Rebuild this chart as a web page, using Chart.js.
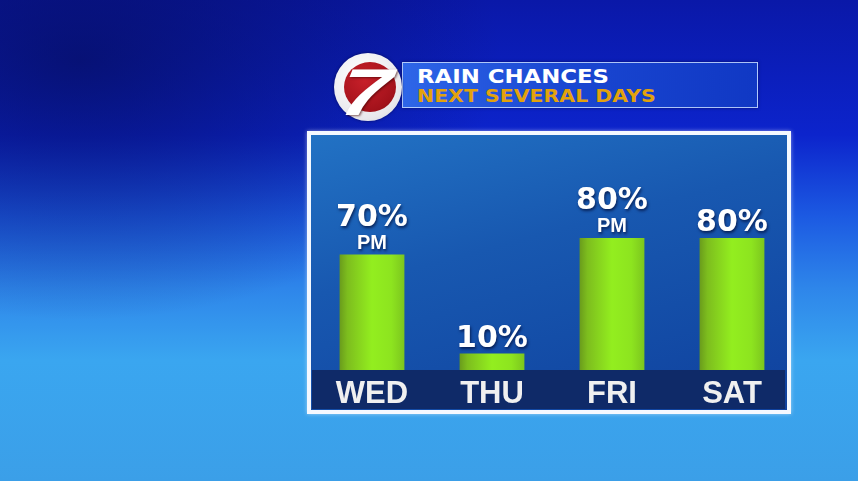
<!DOCTYPE html>
<html>
<head>
<meta charset="utf-8">
<script src="https://cdn.jsdelivr.net/npm/chart.js@4/dist/chart.umd.min.js"></script>
<style>
  html, body { margin: 0; padding: 0; }
  body {
    width: 858px; height: 481px; overflow: hidden; position: relative;
    background:
      radial-gradient(ellipse 420px 260px at 80px 60px, rgba(5,12,90,0.7), rgba(5,12,90,0) 100%),
      linear-gradient(180deg, #0a18a8 0%, #0c24cc 28%, #1c5ae2 45%, #2e86ea 60%, #3aa6f0 75%, #3b9fe8 100%);
    font-family: "Liberation Sans", Arial, sans-serif;
  }
  #panel {
    position: absolute; left: 307px; top: 131px; width: 476px; height: 275px;
    border: 4px solid #f4f8ff;
    box-shadow: 0 0 4px rgba(255,255,255,0.5);
    background: linear-gradient(165deg, #2272c4 0%, #1858b0 40%, #0f419e 100%);
  }
  #band {
    position: absolute; left: 312px; top: 370px; width: 473px; height: 39px;
    background: #0f2a68;
  }
  #banner {
    position: absolute; left: 402px; top: 62px; width: 354px; height: 44px;
    border: 1px solid rgba(200,220,255,0.85);
    background: linear-gradient(90deg, #2e66e8 0%, #1a47d2 45%, #1038c4 100%);
    box-shadow: 0 0 3px rgba(0,0,40,0.5);
  }
  .hl { position: absolute; left: 417px; font-family: "DejaVu Sans", sans-serif; font-weight: bold;
        transform-origin: 0 0; white-space: nowrap; line-height: 1; }
  #l1 { top: 67px; font-size: 19px; color: #ffffff; transform: scaleX(1.2); }
  #l2 { top: 88px; font-size: 17.5px; color: #e3a20c; transform: scaleX(1.17); }
  #ring {
    position: absolute; left: 334px; top: 53px; width: 68px; height: 68px; border-radius: 50%;
    background: radial-gradient(circle at 40% 35%, #ffffff 0%, #e8e8ec 70%, #c9cbd2 100%);
    box-shadow: 0 0 3px rgba(0,0,40,0.6);
  }
  #disc {
    position: absolute; left: 344px; top: 62px; width: 52px; height: 50px; border-radius: 50%;
    background: radial-gradient(circle at 40% 35%, #c8202a 0%, #a3121b 70%, #7e0c12 100%);
  }
  #seven {
    position: absolute; left: 346px; top: 59px; font-size: 66px; font-weight: bold; font-style: italic;
    color: #ffffff; line-height: 1; transform: scaleX(1.35) skewX(-6deg); transform-origin: 0 0;
    text-shadow: 1px 1px 2px rgba(60,0,0,0.6);
  }
  #c { position: absolute; left: 0; top: 0; }
</style>
</head>
<body>
<div id="panel"></div>
<div id="band"></div>
<div id="banner"></div>
<div class="hl" id="l1">RAIN CHANCES</div>
<div class="hl" id="l2">NEXT SEVERAL DAYS</div>
<div id="ring"></div>
<div id="disc"></div>
<div id="seven">7</div>
<canvas id="c" width="858" height="481"></canvas>
<script>
// Rain chances, percent
const days = ['WED', 'THU', 'FRI', 'SAT'];
const chances = [70, 10, 80, 80];
const notes = ['PM', '', 'PM', ''];

const BAR_SHARE = 0.54;

// horizontal green gradient across each bar
function barFill(context) {
    const chart = context.chart;
    const area = chart.chartArea;
    if (!area) return '#8fe41e';
    const cx = chart.scales.x.getPixelForValue(context.dataIndex);
    const half = (area.width / days.length) * BAR_SHARE / 2;
    const g = chart.ctx.createLinearGradient(cx - half, 0, cx + half, 0);
    g.addColorStop(0, '#6a9c1c');
    g.addColorStop(0.12, '#7dbd1e');
    g.addColorStop(0.5, '#93ee1f');
    g.addColorStop(0.8, '#8de41f');
    g.addColorStop(1, '#7cc61e');
    return g;
}

// percent + PM labels above the bars
const valueLabels = {
    id: 'valueLabels',
    afterDatasetsDraw(chart) {
        const ctx = chart.ctx;
        const meta = chart.getDatasetMeta(0);
        ctx.save();
        ctx.textAlign = 'center';
        ctx.textBaseline = 'alphabetic';
        ctx.fillStyle = '#ffffff';
        ctx.shadowColor = 'rgba(0,10,50,0.7)';
        ctx.shadowBlur = 3;
        ctx.shadowOffsetX = 1;
        ctx.shadowOffsetY = 2;
        meta.data.forEach((bar, i) => {
            const note = notes[i];
            const pctY = note ? bar.y - 29 : bar.y - 7;
            ctx.font = 'bold 30px "DejaVu Sans"';
            ctx.fillText(chances[i] + '%', bar.x, pctY);
            if (note) {
                ctx.font = 'bold 20px "Liberation Sans"';
                ctx.fillText(note, bar.x, bar.y - 6);
            }
        });
        ctx.restore();
    }
};

new Chart(document.getElementById('c'), {
    type: 'bar',
    data: {
        labels: days,
        datasets: [{
            data: chances,
            backgroundColor: barFill,
            borderWidth: 0,
            barPercentage: 0.9,
            categoryPercentage: BAR_SHARE / 0.9
        }]
    },
    options: {
        responsive: false,
        animation: false,
        layout: { padding: { left: 312, right: 66, top: 205, bottom: 72 } },
        plugins: { legend: { display: false }, tooltip: { enabled: false } },
        scales: {
            x: {
                grid: { display: false, drawTicks: false },
                border: { display: false },
                afterFit: (s) => { s.height = 39; },
                ticks: {
                    color: '#f0f0f0',
                    padding: 6,
                    font: { family: 'Liberation Sans', weight: 'bold', size: 31 }
                }
            },
            y: {
                display: false,
                min: 0,
                max: 100
            }
        }
    },
    plugins: [valueLabels]
});
</script>
</body>
</html>
